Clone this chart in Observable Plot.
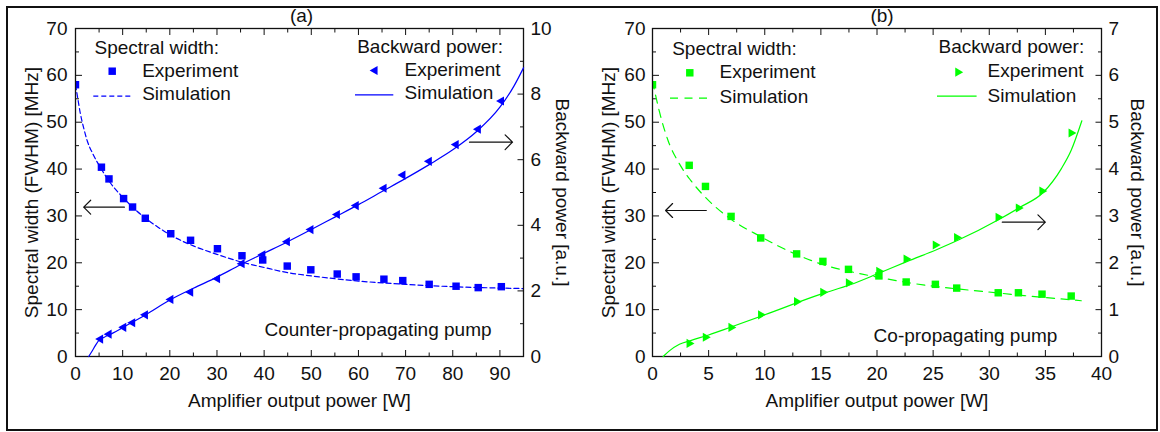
<!DOCTYPE html>
<html><head><meta charset="utf-8">
<script src="https://cdn.jsdelivr.net/npm/d3@7"></script>
<script src="https://cdn.jsdelivr.net/npm/@observablehq/plot@0.6"></script>
<style>
body{margin:0;background:#fff;}
#wrap{position:relative;width:1160px;height:432px;overflow:hidden;background:#fff;}
#border{position:absolute;left:6px;top:6px;width:1152px;height:425px;border:2px solid #111;box-sizing:border-box;}
.layer{position:absolute;top:0;}
.layer svg{display:block;}
</style></head><body>
<div id="wrap"><div id="border"></div></div>
<script>
// ---------- Panel (a): counter-propagating pump ----------
const widthA_x   = [0, 5.5, 7.1, 10.2, 12.1, 14.8, 20.2, 24.4, 30.1, 35.3, 39.7, 44.9, 49.9, 55.5, 59.5, 65.4, 69.4, 75.0, 80.7, 85.4, 90.3];
const widthA_exp = [58.0, 40.4, 37.9, 33.7, 31.9, 29.5, 26.2, 24.8, 23.0, 21.5, 20.6, 19.3, 18.5, 17.6, 17.0, 16.5, 16.2, 15.4, 15.0, 14.7, 14.9];
const bpA_x   = [5.3, 7.1, 10.2, 12.1, 14.8, 20.2, 24.4, 30.1, 35.3, 39.7, 44.9, 49.9, 55.5, 59.5, 65.4, 69.4, 75.0, 80.7, 85.4, 90.3];
const bpA_exp = [0.53, 0.68, 0.89, 1.03, 1.27, 1.74, 1.96, 2.37, 2.83, 3.10, 3.50, 3.87, 4.33, 4.60, 5.13, 5.53, 5.95, 6.46, 6.93, 7.79];
const simWidthA_x = [0, 0.5, 1, 1.7, 2.5, 3.7, 5.3, 7, 10, 12.5, 15, 17.5, 20, 25, 30, 35, 40, 45, 50, 55, 60, 70, 80, 90, 95];
const simWidthA   = [58, 55, 52, 48.9, 46, 43.2, 40.3, 37.6, 34, 31.5, 29.4, 27.6, 26.0, 23.6, 21.8, 20.2, 19.0, 17.9, 17.2, 16.6, 16.1, 15.4, 14.9, 14.6, 14.5];
const simBpA_x = [2.8, 3.5, 4.2, 5.0, 6, 8, 10, 15, 20, 25, 30, 35, 40, 45, 50, 55, 60, 65, 70, 75, 80, 85, 90, 93, 95];
const simBpA   = [0, 0.16, 0.33, 0.5, 0.58, 0.72, 0.88, 1.28, 1.72, 2.08, 2.42, 2.8, 3.15, 3.5, 3.87, 4.25, 4.63, 5.03, 5.43, 5.85, 6.3, 6.85, 7.6, 8.25, 8.8];

// ---------- Panel (b): co-propagating pump ----------
const widthB_x   = [0, 3.27, 4.72, 7.0, 9.64, 12.84, 15.18, 17.46, 20.17, 22.6, 25.2, 27.1, 30.8, 32.6, 34.7, 37.3];
const widthB_exp = [58.0, 40.8, 36.3, 29.9, 25.3, 21.9, 20.3, 18.6, 17.2, 15.9, 15.4, 14.6, 13.6, 13.6, 13.3, 12.9];
const bpB_x   = [3.27, 4.72, 7.0, 9.64, 12.84, 15.18, 17.46, 20.17, 22.6, 25.2, 27.1, 30.8, 32.6, 34.7, 37.3];
const bpB_exp = [0.28, 0.41, 0.62, 0.89, 1.17, 1.37, 1.57, 1.82, 2.08, 2.38, 2.54, 2.97, 3.17, 3.53, 4.77];
const simWidthB_x = [0, 0.6, 1.4, 2.4, 3.4, 4.7, 6.7, 9.7, 12.6, 15.9, 17.3, 19.9, 23.2, 26.5, 29.8, 33.1, 36.4, 38.2];
const simWidthB   = [58.8, 52.4, 46, 41.1, 37.6, 34, 29.8, 25.5, 22, 19.1, 18.3, 17.0, 15.6, 14.6, 13.8, 13.0, 12.3, 11.9];
const simBpB_x = [0.95, 1.5, 2.4, 3.4, 5, 7, 10, 15, 17.6, 20, 22.7, 25.4, 27.2, 30.9, 32.7, 34.8, 36.4, 37.3, 38.25];
const simBpB   = [0, 0.12, 0.26, 0.34, 0.46, 0.63, 0.89, 1.33, 1.53, 1.76, 2.03, 2.29, 2.48, 2.93, 3.18, 3.5, 4.0, 4.4, 5.03];

// ---------- Ticks ----------
const xTicksA = [0, 10, 20, 30, 40, 50, 60, 70, 80, 90];
const xMinorA = [5, 15, 25, 35, 45, 55, 65, 75, 85];
const xTicksB = [0, 5, 10, 15, 20, 25, 30, 35, 40];
const xMinorB = [2.5, 7.5, 12.5, 17.5, 22.5, 27.5, 32.5, 37.5];
const yTicks = [0, 10, 20, 30, 40, 50, 60, 70];
const yMinor = [5, 15, 25, 35, 45, 55, 65];
const bpTicksA = [0, 2, 4, 6, 8, 10];
const bpMinorA = [1, 3, 5, 7, 9];
const bpTicksB = [0, 1, 2, 3, 4, 5, 6, 7];
const bpMinorB = [0.5, 1.5, 2.5, 3.5, 4.5, 5.5, 6.5];

// ---------- Texts ----------
const xTitle = "Amplifier output power [W]";
const yTitle = "Spectral width (FWHM) [MHz]";
const y2Title = "Backward power [a.u.]";
const legendTitles = ["Spectral width:", "Backward power:"];
const legendLabels = ["Experiment", "Simulation"];

const zip = (xs, ys) => xs.map((x, i) => ({x, y: ys[i]}));
const FONT = "'Liberation Sans', Arial, Helvetica, sans-serif";
const style = {background: "none", fontFamily: FONT, fontSize: "19px", color: "#111", overflow: "visible"};
const T = {textAnchor: "start", lineAnchor: "middle", text: d => d};

function panel(cfg) {
  const W = 580, H = 432, mt = 28, mb = 76;
  const fw = W - cfg.ml - cfg.mr;
  const common = {width: W, height: H, marginLeft: cfg.ml, marginRight: cfg.mr, marginTop: mt, marginBottom: mb, style};
  const lg = cfg.legend;
  const base = Plot.plot({
    ...common,
    x: {domain: cfg.xDomain},
    y: {domain: [0, 70]},
    marks: [
      Plot.axisX(cfg.xTicks, {anchor: "bottom", tickSize: 0, tickPadding: 10, label: null}),
      Plot.axisX(cfg.xTicks, {anchor: "bottom", tickSize: -6, fill: "none", label: null}),
      Plot.axisX(cfg.xMinor, {anchor: "bottom", tickSize: -3.5, fill: "none", label: null}),
      Plot.axisX(cfg.xTicks, {anchor: "top", tickSize: -6, fill: "none", label: null}),
      Plot.axisX(cfg.xMinor, {anchor: "top", tickSize: -3.5, fill: "none", label: null}),
      Plot.axisY(yTicks, {anchor: "left", tickSize: 0, tickPadding: cfg.yPad, label: null}),
      Plot.axisY(yTicks, {anchor: "left", tickSize: -7, fill: "none", label: null}),
      Plot.axisY(yMinor, {anchor: "left", tickSize: -4, fill: "none", label: null}),
      Plot.line(zip(cfg.simWx, cfg.simW), {x: "x", y: "y", stroke: cfg.color, strokeWidth: 1.2, strokeDasharray: cfg.dash, curve: "monotone-x"}),
      Plot.dot(zip(cfg.wx, cfg.wExp), {x: "x", y: "y", symbol: "square", r: 4.2, fill: cfg.color, clip: true}),
      Plot.frame({stroke: "#111", strokeWidth: 1.3}),
      Plot.text([xTitle], {frameAnchor: "bottom", dy: 44, textAnchor: "middle", lineAnchor: "middle", text: d => d}),
      Plot.text([yTitle], {frameAnchor: "left", rotate: -90, dx: cfg.yTitleDx, textAnchor: "middle", lineAnchor: "middle", text: d => d}),
      Plot.text([cfg.title], {frameAnchor: "top", dx: cfg.titleDx, dy: -13, textAnchor: "middle", lineAnchor: "middle", text: d => d}),
      Plot.text([cfg.note], {frameAnchor: "top-left", dx: cfg.noteDx, dy: cfg.noteDy, textAnchor: "middle", lineAnchor: "middle", text: d => d}),
      // legend: spectral width
      Plot.text([legendTitles[0]], {frameAnchor: "top-left", dx: lg.l[0], dy: lg.l[1], ...T}),
      Plot.dot([0], {frameAnchor: "top-left", dx: lg.l[2], dy: lg.l[3], symbol: "square", r: 4.2, fill: cfg.color}),
      Plot.text([legendLabels[0]], {frameAnchor: "top-left", dx: lg.l[4], dy: lg.l[5], ...T}),
      Plot.ruleY([70], {dy: lg.l[6], insetLeft: lg.l[7], insetRight: fw - lg.l[8], stroke: cfg.color, strokeWidth: 1.2, strokeDasharray: cfg.dash}),
      Plot.text([legendLabels[1]], {frameAnchor: "top-left", dx: lg.l[4], dy: lg.l[9], ...T}),
      // arrow to left axis
      Plot.vector([0], {frameAnchor: "top-left", dx: cfg.arrowL[0], dy: cfg.arrowL[1], length: cfg.arrowL[2], rotate: -90, anchor: "start", r: 3, stroke: "#111", strokeWidth: 1.2})
    ]
  });
  const over = Plot.plot({
    ...common,
    x: {domain: cfg.xDomain, axis: null},
    y: {domain: cfg.bpDomain, axis: null},
    marks: [
      Plot.axisY(cfg.bpTicks, {anchor: "right", tickSize: 0, tickPadding: 7, label: null}),
      Plot.axisY(cfg.bpTicks, {anchor: "right", tickSize: -6.5, fill: "none", label: null}),
      Plot.axisY(cfg.bpMinor, {anchor: "right", tickSize: -4, fill: "none", label: null}),
      Plot.line(zip(cfg.simBx, cfg.simB), {x: "x", y: "y", stroke: cfg.color, strokeWidth: 1.2, curve: "monotone-x"}),
      Plot.dot(zip(cfg.bx, cfg.bExp), {x: "x", y: "y", symbol: "triangle", rotate: cfg.triRotate, r: 3.4, fill: cfg.color}),
      Plot.text([y2Title], {frameAnchor: "right", rotate: 90, dx: cfg.y2TitleDx, textAnchor: "middle", lineAnchor: "middle", text: d => d}),
      // legend: backward power
      Plot.text([legendTitles[1]], {frameAnchor: "top-left", dx: lg.r[0], dy: lg.r[1], ...T}),
      Plot.dot([0], {frameAnchor: "top-left", dx: lg.r[2], dy: lg.r[3], symbol: "triangle", rotate: cfg.triRotate, r: 3.4, fill: cfg.color}),
      Plot.text([legendLabels[0]], {frameAnchor: "top-left", dx: lg.r[4], dy: lg.r[5], ...T}),
      Plot.ruleY([cfg.bpDomain[1]], {dy: lg.r[6], insetLeft: lg.r[7], insetRight: fw - lg.r[8], stroke: cfg.color, strokeWidth: 1.2}),
      Plot.text([legendLabels[1]], {frameAnchor: "top-left", dx: lg.r[4], dy: lg.r[9], ...T}),
      Plot.vector([0], {frameAnchor: "top-left", dx: cfg.arrowR[0], dy: cfg.arrowR[1], length: cfg.arrowR[2], rotate: 90, anchor: "start", r: 3, stroke: "#111", strokeWidth: 1.2})
    ]
  });
  for (const svg of [base, over]) {
    const d = document.createElement("div");
    d.className = "layer";
    d.style.left = cfg.left + "px";
    d.appendChild(svg);
    document.getElementById("wrap").appendChild(d);
  }
}

panel({
  left: 0, ml: 75, mr: 57, xDomain: [0, 95], bpDomain: [0, 10],
  xTicks: xTicksA, xMinor: xMinorA, bpTicks: bpTicksA, bpMinor: bpMinorA,
  wx: widthA_x, wExp: widthA_exp, bx: bpA_x, bExp: bpA_exp,
  simWx: simWidthA_x, simW: simWidthA, simBx: simBpA_x, simB: simBpA,
  color: "#0000ff", dash: "5,3", triRotate: -90,
  yPad: 8, yTitleDx: -44, y2TitleDx: 39, title: "(a)", titleDx: 2,
  note: "Counter-propagating pump", noteDx: 302.5, noteDy: 301,
  arrowL: [48.9, 178.7, 40.7], arrowR: [394, 113.7, 43],
  legend: {
    l: [19, 19.5, 36.7, 42.7, 66.7, 42, 67.7, 18.3, 56.7, 65.3],
    r: [281.7, 18.5, 299.4, 42, 329, 41, 66.3, 280, 318.3, 64]
  }
});
panel({
  left: 580, ml: 72, mr: 59, xDomain: [0, 40], bpDomain: [0, 7],
  xTicks: xTicksB, xMinor: xMinorB, bpTicks: bpTicksB, bpMinor: bpMinorB,
  wx: widthB_x, wExp: widthB_exp, bx: bpB_x, bExp: bpB_exp,
  simWx: simWidthB_x, simW: simWidthB, simBx: simBpB_x, simB: simBpB,
  color: "#00ff00", dash: "8,6.5", triRotate: 90,
  yPad: 7, yTitleDx: -43.5, y2TitleDx: 36, title: "(b)", titleDx: 5,
  note: "Co-propagating pump", noteDx: 313, noteDy: 307,
  arrowL: [53.8, 182, 40.7], arrowR: [349.8, 193.7, 43],
  legend: {
    l: [19.7, 20.8, 37.3, 44.3, 67, 43.7, 69.7, 18, 56.3, 68],
    r: [286, 18.7, 305.4, 43.7, 335, 42, 67.7, 285, 324.6, 67]
  }
});
</script></body></html>
